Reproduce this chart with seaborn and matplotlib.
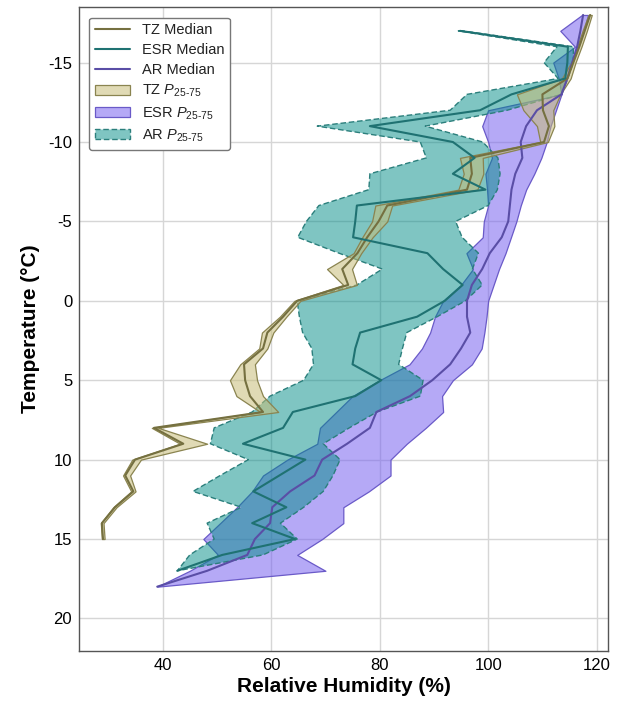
import numpy as np
import pandas as pd
import matplotlib
matplotlib.use("Agg")
import matplotlib.pyplot as plt
import seaborn as sns

# temperature levels (deg C)
temp_tz = list(range(-18, 16))
temp_pu = list(range(-18, 19))
temp_te = list(range(-17, 18))

# TZ median and P25-75 (RH %)
tz_med = [118.8, 117.8, 116.8, 115.7, 114.6, 110.0, 110.1, 111.2, 110.3, 96.7,
          97.0, 96.1, 81.4, 79.8, 77.7, 75.9, 73.1, 74.2, 64.8, 62.2,
          59.3, 58.5, 55.0, 55.2, 56.1, 58.5, 38.4, 43.8, 34.9, 33.1,
          34.6, 31.2, 28.8, 29.0]
tz_lo = [118.5, 117.4, 116.4, 115.3, 113.6, 105.3, 106.5, 109.0, 109.6, 94.8,
         95.5, 94.5, 79.2, 78.6, 76.8, 75.2, 70.3, 73.3, 64.3, 61.6,
         58.3, 57.8, 54.3, 52.4, 53.6, 58.0, 38.0, 43.2, 34.4, 32.7,
         34.2, 30.9, 28.6, 28.8]
tz_hi = [119.1, 118.2, 117.2, 116.1, 115.2, 113.3, 112.0, 112.2, 111.0, 99.0,
         99.1, 98.0, 82.3, 81.4, 78.7, 76.6, 74.9, 75.8, 65.4, 62.8,
         60.4, 59.3, 57.0, 57.4, 58.5, 61.3, 39.2, 48.2, 36.0, 34.0,
         35.0, 31.5, 29.1, 29.3]

# purple: AR median line, ESR P25-75 fill
pu_med = [117.5, 117.0, 116.4, 115.5, 114.6, 113.5, 109.0, 107.0, 106.0, 106.3,
          105.0, 104.3, 104.0, 103.7, 102.5, 100.3, 98.9, 97.0, 96.1, 96.1,
          96.7, 95.0, 93.0, 89.7, 85.6, 79.4, 78.2, 74.0, 69.4, 68.0,
          63.5, 60.2, 59.8, 57.0, 55.6, 48.2, 39.0]
pu_lo = [117.3, 113.3, 116.0, 112.0, 113.0, 113.5, 100.0, 98.9, 100.0, 100.7,
         99.5, 99.8, 100.0, 99.2, 99.0, 96.0, 97.2, 95.0, 91.7, 90.2,
         89.3, 87.8, 85.5, 80.0, 75.0, 72.0, 69.0, 68.5, 63.0, 58.5,
         56.5, 53.7, 50.6, 47.5, 50.2, 45.0, 39.0]
pu_hi = [118.4, 117.6, 116.5, 115.5, 114.5, 113.5, 112.5, 111.5, 110.8, 109.8,
         108.5, 107.0, 106.0, 105.2, 104.2, 103.2, 102.0, 101.0, 100.0, 99.7,
         99.3, 98.8, 97.0, 93.5, 91.5, 91.7, 88.5, 85.0, 82.0, 82.0,
         78.0, 73.3, 73.3, 69.4, 64.8, 70.0, 39.0]

# teal: ESR median line, AR P25-75 fill
te_med = [94.8, 114.7, 114.6, 114.2, 104.3, 98.5, 78.2, 93.5, 97.5, 93.5,
          99.5, 75.8, 75.5, 75.1, 88.8, 91.7, 95.3, 92.0, 86.9, 76.4,
          75.5, 75.0, 80.3, 75.5, 64.0, 62.2, 54.8, 66.3, 61.5, 56.7,
          62.8, 56.5, 64.4, 51.0, 42.7]
te_lo = [94.5, 112.7, 110.3, 112.9, 96.1, 93.0, 68.5, 87.5, 88.6, 78.2,
         78.0, 68.8, 66.5, 64.9, 72.5, 80.5, 75.8, 64.8, 65.2, 65.8,
         67.5, 67.8, 66.0, 59.8, 56.5, 49.5, 48.8, 55.8, 50.6, 45.6,
         54.5, 48.2, 49.5, 45.0, 42.7]
te_hi = [95.3, 115.7, 115.7, 114.7, 113.5, 103.5, 88.4, 99.0, 101.8, 102.2,
         101.7, 100.0, 94.0, 95.2, 98.2, 97.1, 98.9, 95.8, 90.6, 85.0,
         84.2, 83.5, 88.0, 87.5, 79.5, 74.4, 69.6, 72.7, 71.4, 69.6,
         66.0, 61.7, 64.8, 58.5, 42.7]

x_ticks = [40, 60, 80, 100, 120]
y_ticks = [-15, -10, -5, 0, 5, 10, 15, 20]

sns.set_style("whitegrid")
plt.rcParams["font.family"] = ["Liberation Sans", "DejaVu Sans"]
plt.rcParams["mathtext.fontset"] = "custom"
plt.rcParams["mathtext.it"] = "Liberation Sans:italic"
plt.rcParams["mathtext.rm"] = "Liberation Sans"
plt.rcParams["axes.unicode_minus"] = False

fig = plt.figure(figsize=(6.23, 7.03), dpi=100)
ax = fig.add_axes([0.127, 0.074, 0.849, 0.916])

c_tz_line, c_tz_fill = "#757040", (0.78, 0.74, 0.47)
c_te_line, c_te_fill = "#1f7272", (0.0, 0.55, 0.53)
c_pu_line, c_pu_fill = "#5a4ea6", (0.47, 0.39, 0.94)

# percentile bands
f_pu = ax.fill_betweenx(temp_pu, pu_lo, pu_hi, zorder=2)
f_pu.set_facecolor((*c_pu_fill, 0.55))
f_pu.set_edgecolor("#6a5ac8")
f_pu.set_linewidth(0.9)
f_te = ax.fill_betweenx(temp_te, te_lo, te_hi, zorder=3)
f_te.set_facecolor((*c_te_fill, 0.5))
f_te.set_edgecolor("#2b7f7c")
f_te.set_linestyle((0, (4, 2)))
f_te.set_linewidth(1.0)
f_tz = ax.fill_betweenx(temp_tz, tz_lo, tz_hi, zorder=4)
f_tz.set_facecolor((*c_tz_fill, 0.55))
f_tz.set_edgecolor("#8a8450")
f_tz.set_linewidth(0.9)

# medians
df_tz = pd.DataFrame({"T": temp_tz, "RH": tz_med})
df_te = pd.DataFrame({"T": temp_te, "RH": te_med})
df_pu = pd.DataFrame({"T": temp_pu, "RH": pu_med})
sns.lineplot(data=df_tz, x="RH", y="T", orient="y", sort=False, color=c_tz_line,
             lw=1.5, ax=ax, zorder=6)
sns.lineplot(data=df_te, x="RH", y="T", orient="y", sort=False, color=c_te_line,
             lw=1.5, ax=ax, zorder=6)
sns.lineplot(data=df_pu, x="RH", y="T", orient="y", sort=False, color=c_pu_line,
             lw=1.5, ax=ax, zorder=5)
l_tz, l_te, l_pu = ax.get_lines()[-3:]

ax.set_xlim(24.6, 122.1)
ax.set_ylim(22.05, -18.5)
ax.set_xticks(x_ticks)
ax.set_yticks(y_ticks)
ax.grid(True, color="#d6d6d6", lw=1.0)
ax.set_axisbelow(True)
for s in ax.spines.values():
    s.set_color("#555555")
    s.set_linewidth(1.0)
ax.tick_params(axis="both", labelsize=12, direction="in", length=3,
               color="#666666", labelcolor="black", pad=5)
ax.set_xlabel("Relative Humidity (%)", fontsize=15, fontweight="bold",
              labelpad=3, color="black")
ax.set_ylabel("Temperature (°C)", fontsize=15, fontweight="bold",
              labelpad=6, color="black")

handles = [l_tz, l_te, l_pu, f_tz, f_pu, f_te]
labels = ["TZ Median", "ESR Median", "AR Median",
          r"TZ $P_{25\text{-}75}$", r"ESR $P_{25\text{-}75}$", r"AR $P_{25\text{-}75}$"]
leg = ax.legend(handles, labels, loc="upper left", bbox_to_anchor=(0.005, 0.995),
                fontsize=10.5, frameon=True, fancybox=True, edgecolor="#777777",
                framealpha=1, handlelength=2.4, borderpad=0.4, labelspacing=0.4)
leg.get_frame().set_linewidth(1.0)
for t in leg.get_texts():
    t.set_color("#222222")

fig.savefig("out.png", dpi=100)
